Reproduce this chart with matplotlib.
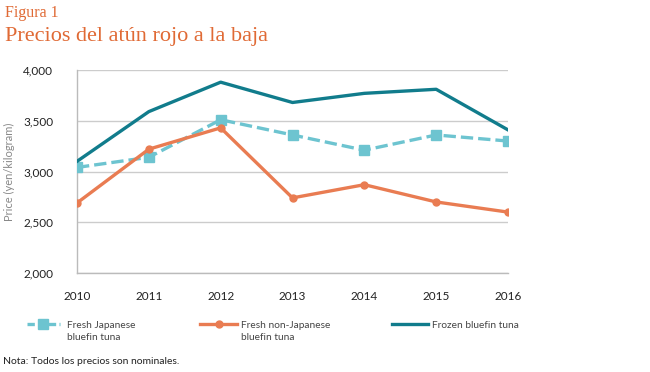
import matplotlib
matplotlib.use("Agg")
import matplotlib.pyplot as plt
from matplotlib.lines import Line2D

years = [2010, 2011, 2012, 2013, 2014, 2015, 2016]
fresh_japanese = [3040, 3140, 3510, 3360, 3210, 3360, 3300]
fresh_non_japanese = [2690, 3220, 3430, 2740, 2870, 2700, 2600]
frozen = [3100, 3590, 3880, 3680, 3770, 3810, 3410]
yticks = [2000, 2500, 3000, 3500, 4000]
labels = [("Fresh Japanese", "bluefin tuna"),
          ("Fresh non-Japanese", "bluefin tuna"),
          ("Frozen bluefin tuna", "")]

c_fj = "#6dc4d0"
c_fnj = "#e97c52"
c_fz = "#117c8c"
c_title = "#e06a35"
c_text = "#444444"

plt.rcParams['font.family'] = ['Lato', 'DejaVu Sans']

W, H = 650, 372
fig = plt.figure(figsize=(6.5, 3.72), dpi=100)
ax = fig.add_axes([77/W, 1-273/H, (508-77)/W, (273-70)/H])

dash = (0, (3.7, 1.5))
ax.plot(years, fresh_japanese, color=c_fj, lw=2.4, ls=dash, marker='s', ms=6.5, zorder=3)
ax.plot(years, fresh_non_japanese, color=c_fnj, lw=2.4, marker='o', ms=5, zorder=3)
ax.plot(years, frozen, color=c_fz, lw=2.4, zorder=4)

ax.set_ylim(2000, 4000)
ax.set_xlim(2010, 2016)
ax.set_yticks(yticks)
ax.set_yticklabels([f"{v:,}" for v in yticks])
ax.set_xticks(years)
ax.grid(axis='y', color='#cccccc', lw=1)
ax.set_axisbelow(True)
for s in ['top', 'right']:
    ax.spines[s].set_visible(False)
for s in ['left', 'bottom']:
    ax.spines[s].set_color('#bbbbbb')
    ax.spines[s].set_linewidth(1)
ax.tick_params(axis='both', length=0, labelsize=8.5, colors='#222222')
ax.tick_params(axis='y', pad=17)
ax.tick_params(axis='x', pad=13)
ax.set_ylabel("Price (yen/kilogram)", fontsize=8, color='#888888')
ax.yaxis.set_label_coords(-62/431, 0.5)

fig.text(5/W, 1-13/H, "Figura 1", fontsize=11.5, color=c_title, va='center',
         family=['Liberation Serif'])
fig.text(5/W, 1-37/H, "Precios del atún rojo a la baja", fontsize=16, color=c_title,
         va='center', family=['Liberation Serif'])

handles = [
    Line2D([0], [0], color=c_fj, lw=2.4, ls=(0, (2.2, 1.0)), marker='s', ms=7),
    Line2D([0], [0], color=c_fnj, lw=2.4, marker='o', ms=5),
    Line2D([0], [0], color=c_fz, lw=2.4),
]
hx = [27, 200, 392]
hlen = [3.25, 3.65, 3.55]
hpad = [0.65, 0.4, 0.4]
tx = [67, 241, 432]
fs = 7.3
for h, (l1, l2), x, hl, hp, t in zip(handles, labels, hx, hlen, hpad, tx):
    lg = fig.legend([h], [l1], loc='center left', bbox_to_anchor=(x/W, 1-325/H),
                    frameon=False, fontsize=fs, handlelength=hl, handletextpad=hp,
                    borderaxespad=0, borderpad=0)
    for tt in lg.get_texts():
        tt.set_color(c_text)
    if l2:
        fig.text(t/W, 1-337/H, l2, fontsize=fs, color=c_text, va='center')

fig.text(3/W, 1-362/H, "Nota: Todos los precios son nominales.", fontsize=7.5,
         color='#222222', va='center')

fig.savefig("out.png", dpi=100)
